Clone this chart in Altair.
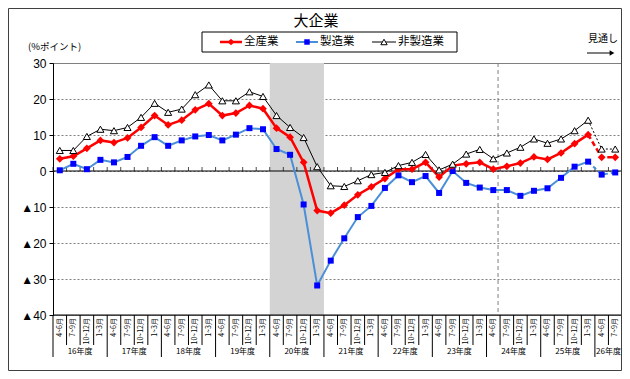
import altair as alt
import pandas as pd

# ---- data ----
quarters = ["4~6月", "7~9月", "10~12月", "1~3月"]
years = ["16年度", "17年度", "18年度", "19年度", "20年度", "21年度",
         "22年度", "23年度", "24年度", "25年度", "26年度"]

all_ind = [3.4, 4.1, 6.3, 8.5, 7.9, 9.2, 12.1, 15.4, 12.8, 14.1,
           17.0, 18.7, 15.4, 16.1, 18.2, 17.3, 11.9, 9.4, 2.4, -11.0,
           -11.7, -9.5, -6.6, -4.4, -2.1, 0.5, 0.5, 2.4, -1.7, 1.5,
           2.0, 2.4, 0.5, 1.3, 2.2, 3.9, 3.2, 5.0, 7.6, 10.1,
           3.8, 3.8]
mfg = [0.2, 2.0, 0.5, 3.1, 2.4, 3.9, 7.0, 9.4, 7.0, 8.5,
       9.6, 10.0, 8.5, 10.1, 11.9, 11.6, 6.1, 4.5, -9.3, -31.8,
       -24.9, -18.7, -12.8, -9.7, -4.7, -1.2, -3.1, -1.4, -6.1, 0.0,
       -3.3, -4.6, -5.3, -5.3, -6.9, -5.5, -4.8, -1.9, 1.2, 2.6,
       -1.0, -0.4]
non_mfg = [5.7, 5.7, 9.6, 11.6, 11.2, 12.1, 14.9, 18.8, 16.3, 17.2,
           21.2, 23.9, 19.5, 19.5, 22.0, 20.7, 15.4, 12.1, 9.3, 1.2,
           -4.1, -4.3, -2.7, -1.0, -0.4, 1.5, 2.4, 4.6, 0.3, 1.9,
           4.7, 6.0, 3.4, 5.0, 6.6, 8.9, 7.7, 8.9, 11.2, 14.1,
           6.1, 6.1]
series_names = ["全産業", "製造業", "非製造業"]
forecast_start = 39          # last actual point; after it the lines are forecasts
shade_span = [16, 20]        # 20年度 band
dashed_line_at = 32.85
y_ticks = [-40, -30, -20, -10, 0, 10, 20, 30]

n = len(all_ind)
W, H = 569, 252

df = pd.DataFrame({
    "pos": [i + 0.5 for i in range(n)],
    "all": all_ind, "mfg": mfg, "non": non_mfg,
    "q": [quarters[i % 4] for i in range(n)],
})
solid = df[df.index <= forecast_start]
fcast = df[df.index >= forecast_start]

xs = alt.Scale(domain=[0, n], nice=False, zero=False)
ys = alt.Scale(domain=[-40, 30], nice=False, zero=False)
yaxis = alt.Axis(values=y_ticks, title=None, grid=True, gridColor="#808080",
                 gridDash=[2, 2], gridWidth=1, domainColor="black",
                 tickColor="black", tickSize=4, labelFont="Liberation Sans",
                 labelFontSize=12, labelColor="black", labelPadding=3,
                 labelExpr="datum.value < 0 ? '▲' + (-datum.value) : '' + datum.value")


def X(f):
    return alt.X(f, scale=xs, axis=None)


def Y(f):
    return alt.Y(f, scale=ys, axis=yaxis)


one = pd.DataFrame({"k": [0]})

# shaded band
shade = alt.Chart(pd.DataFrame({"a": [shade_span[0]], "b": [shade_span[1]]})).mark_rect(
    fill="#d3d3d3").encode(x=X("a:Q"), x2="b:Q", y=alt.value(0), y2=alt.value(H))

vline = alt.Chart(pd.DataFrame({"v": [dashed_line_at]})).mark_rule(
    color="#808080", strokeDash=[4, 3], strokeWidth=1).encode(
    x=X("v:Q"), y=alt.value(0), y2=alt.value(H))

zero = alt.Chart(pd.DataFrame({"z": [0]})).mark_rule(color="black", strokeWidth=1).encode(
    y=Y("z:Q"), x=alt.value(0), x2=alt.value(W))
bottom = alt.Chart(pd.DataFrame({"z": [-40]})).mark_rule(color="black", strokeWidth=1).encode(
    y=Y("z:Q"), x=alt.value(0), x2=alt.value(W))

bounds = pd.DataFrame({"b": list(range(n + 1)), "z": [0] * (n + 1)})
zticks = alt.Chart(bounds).mark_tick(orient="vertical", size=4, thickness=1,
                                     color="black", yOffset=-2).encode(
    x=X("b:Q"), y=Y("z:Q"))


def series(col, color, width, dash, point_kw):
    s = alt.Chart(solid).mark_line(color=color, strokeWidth=width).encode(
        x=X("pos:Q"), y=Y(f"{col}:Q"))
    f = alt.Chart(fcast).mark_line(color=color, strokeWidth=width, strokeDash=dash).encode(
        x=X("pos:Q"), y=Y(f"{col}:Q"))
    p = alt.Chart(df).mark_point(**point_kw).encode(x=X("pos:Q"), y=Y(f"{col}:Q"))
    return [s, f, p]


blue_layers = series("mfg", "#4a8fd8", 2, [4, 3],
                     dict(shape="square", filled=True, color="#0000ff", size=36, opacity=1))
red_layers = series("all", "#ff0000", 2.5, [5, 3],
                    dict(shape="diamond", filled=True, color="#ff0000", size=60, opacity=1))
black_layers = series("non", "#000000", 1, [2, 2],
                      dict(shape="triangle-up", filled=True, fill="white", stroke="black",
                           strokeWidth=1, size=50, opacity=1))

# category axis (two levels)
qsep = alt.Chart(bounds).mark_rule(color="black", strokeWidth=1).encode(
    x=X("b:Q"), y=alt.value(H), y2=alt.value(H + 30))
ybounds = pd.DataFrame({"b": list(range(0, n, 4)) + [n]})
ysep = alt.Chart(ybounds).mark_rule(color="black", strokeWidth=1).encode(
    x=X("b:Q"), y=alt.value(H + 30), y2=alt.value(H + 42))
qlab = alt.Chart(df).mark_text(angle=270, align="right", baseline="middle",
                               font="Noto Sans CJK JP", fontSize=7, color="black").encode(
    x=X("pos:Q"), y=alt.value(H + 3), text="q:N")
ydf = pd.DataFrame({"c": [min(4 * k + 2, (4 * k + n) / 2) for k in range(len(years))],
                    "t": years})
ylab = alt.Chart(ydf).mark_text(baseline="middle", font="Noto Sans CJK JP",
                                fontSize=8, color="black").encode(
    x=X("c:Q"), y=alt.value(H + 37), text="t:N")

# title, unit, legend, forecast arrow
def txt(s, x, y, size, align="left"):
    return alt.Chart(one).mark_text(text=s, align=align, baseline="middle",
                                    font="Noto Sans CJK JP", fontSize=size,
                                    color="black").encode(x=alt.value(x), y=alt.value(y))


title = txt("大企業", 263, -42, 15, "center")
unit = txt("(%ポイント)", -25, -16, 9.5)
mitoshi = txt("見通し", 535, -24, 10)
arrow = alt.Chart(one).mark_rule(color="black", strokeWidth=1).encode(
    x=alt.value(534), x2=alt.value(558), y=alt.value(-10))
arrowhead = alt.Chart(one).mark_point(shape="triangle-right", filled=True, color="black",
                                      size=30, opacity=1).encode(
    x=alt.value(559), y=alt.value(-10))

lbox = alt.Chart(one).mark_rect(fill="white", stroke="black", strokeWidth=1).encode(
    x=alt.value(149), x2=alt.value(404), y=alt.value(-31), y2=alt.value(-11))
leg = []
for (x0, x1, mx, tx, name, color, w, pkw) in [
    (167, 189, 178, 191, series_names[0], "#ff0000", 2.5,
     dict(shape="diamond", filled=True, color="#ff0000", size=45, opacity=1)),
    (243, 265, 254, 267, series_names[1], "#4a8fd8", 2,
     dict(shape="square", filled=True, color="#0000ff", size=30, opacity=1)),
    (319, 343, 331, 345, series_names[2], "#000000", 1,
     dict(shape="triangle-up", filled=True, fill="white", stroke="black",
          strokeWidth=1, size=40, opacity=1)),
]:
    leg.append(alt.Chart(one).mark_rule(color=color, strokeWidth=w).encode(
        x=alt.value(x0), x2=alt.value(x1), y=alt.value(-21)))
    leg.append(alt.Chart(one).mark_point(**pkw).encode(x=alt.value(mx), y=alt.value(-21)))
    leg.append(txt(name, tx, -21, 11.5))

frame = alt.Chart(one).mark_rect(fill=None, stroke="#404040", strokeWidth=1).encode(
    x=alt.value(-44.5), x2=alt.value(568.5), y=alt.value(-54.5), y2=alt.value(307.5))

chart = alt.layer(
    shade, vline, zero, bottom, zticks,
    *blue_layers, *red_layers, *black_layers,
    qsep, ysep, qlab, ylab,
    title, unit, mitoshi, arrow, arrowhead, lbox, *leg, frame,
).properties(
    width=W, height=H,
    autosize=alt.AutoSizeParams(type="none"),
    padding={"left": 45, "top": 55, "right": 0, "bottom": 56},
    background="white",
).configure_view(stroke="#808080", strokeWidth=1)

chart.save("out.html", embed_options={"renderer": "svg", "actions": False})
